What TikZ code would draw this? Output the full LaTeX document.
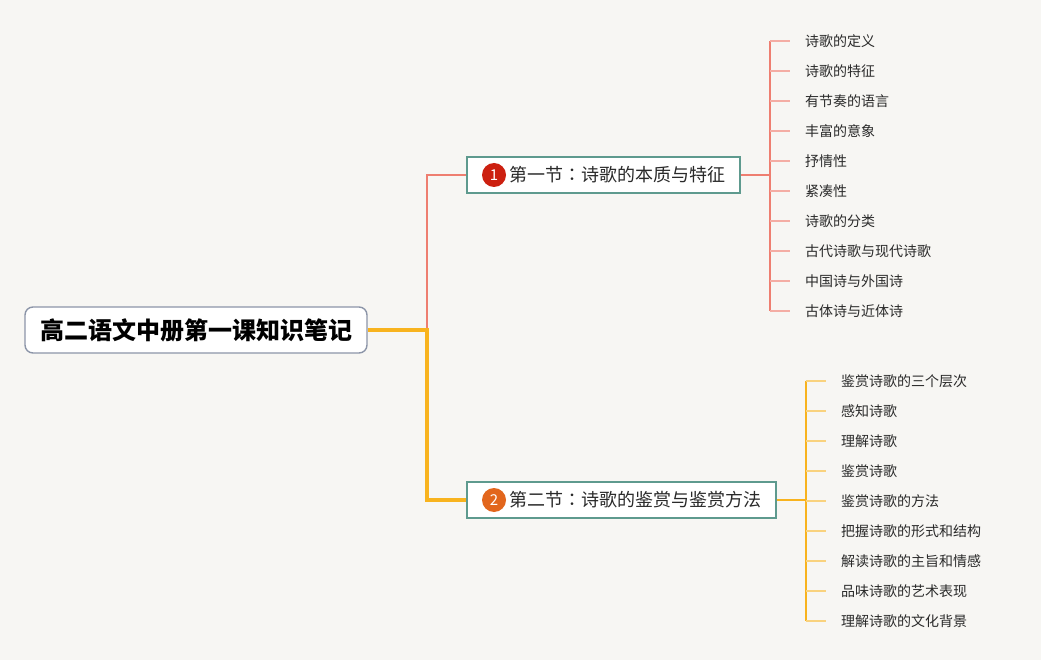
\documentclass[tikz,border=0pt]{standalone}
\usepackage{fontspec}
\setmainfont{Noto Sans CJK SC}
\newfontfamily\tcfont{Noto Sans CJK TC}
\newcommand{\sectcolon}{{\tcfont ：}}
\definecolor{paper}{HTML}{F7F6F3}
\definecolor{rootline}{HTML}{8C95A8}
\definecolor{tealline}{HTML}{5E9A8E}
\definecolor{redline}{HTML}{EE7E70}
\definecolor{redtick}{HTML}{F4ADA4}
\definecolor{yelline}{HTML}{F8B31E}
\definecolor{yeltick}{HTML}{F9D27E}
\definecolor{redball}{HTML}{CC2010}
\definecolor{orangeball}{HTML}{E2661C}
\definecolor{inkgray}{HTML}{2A2A2A}

\begin{document}
\begin{tikzpicture}[x=1pt, y=-1pt,
    rootbox/.style={draw=rootline, line width=1.4pt, fill=white, rounded corners=8pt, minimum width=342pt, minimum height=46pt, font=\fontsize{24pt}{27pt}\selectfont\bfseries, text=black},
    sectbox/.style={draw=tealline, line width=1.5pt, fill=white, minimum height=36pt, font=\fontsize{18pt}{21pt}\selectfont, text=inkgray},
    ball/.style={circle, inner sep=0pt, minimum size=24pt, text=white, font=\fontsize{15pt}{17pt}\selectfont},
    leaf/.style={anchor=west, inner xsep=15pt, inner ysep=2pt, font=\fontsize{14pt}{16pt}\selectfont, text=inkgray}]
    \fill[paper] (0,0) rectangle (1041,660);
    \useasboundingbox (0,0) rectangle (1041,660);

    % Nodes - root and sections
    \node[rootbox] (root) at (196,330) {高二语文中册第一课知识笔记};
    \node[sectbox, minimum width=273pt] (s1) at (603.5,175) {\hspace*{27pt}第一节\sectcolon 诗歌的本质与特征};
    \node[sectbox, minimum width=309pt] (s2) at (621.5,500) {\hspace*{27pt}第二节\sectcolon 诗歌的鉴赏与鉴赏方法};
    \node[ball, fill=redball] (n1) at (494,175) {1};
    \node[ball, fill=orangeball] (n2) at (494,500) {2};
    \coordinate (j) at (427,330);
    \coordinate (t1) at (770,175);
    \coordinate (t2) at (806,500);

    % Nodes - leaves of section 1
    \node[leaf] (a1) at (790,41) {诗歌的定义};
    \node[leaf] (a2) at (790,71) {诗歌的特征};
    \node[leaf] (a3) at (790,101) {有节奏的语言};
    \node[leaf] (a4) at (790,131) {丰富的意象};
    \node[leaf] (a5) at (790,161) {抒情性};
    \node[leaf] (a6) at (790,191) {紧凑性};
    \node[leaf] (a7) at (790,221) {诗歌的分类};
    \node[leaf] (a8) at (790,251) {古代诗歌与现代诗歌};
    \node[leaf] (a9) at (790,281) {中国诗与外国诗};
    \node[leaf] (a10) at (790,311) {古体诗与近体诗};

    % Nodes - leaves of section 2
    \node[leaf] (b1) at (826,381) {鉴赏诗歌的三个层次};
    \node[leaf] (b2) at (826,411) {感知诗歌};
    \node[leaf] (b3) at (826,441) {理解诗歌};
    \node[leaf] (b4) at (826,471) {鉴赏诗歌};
    \node[leaf] (b5) at (826,501) {鉴赏诗歌的方法};
    \node[leaf] (b6) at (826,531) {把握诗歌的形式和结构};
    \node[leaf] (b7) at (826,561) {解读诗歌的主旨和情感};
    \node[leaf] (b8) at (826,591) {品味诗歌的艺术表现};
    \node[leaf] (b9) at (826,621) {理解诗歌的文化背景};

    % Edges (main branches)
    \draw[redline, line width=1.5pt] (j) |- (s1.west);
    \draw[yelline, line width=4pt] (root.east) -- (j) |- (s2.west);
    \draw[redline, line width=1.5pt] (s1.east) -- (t1);
    \draw[yelline, line width=2pt] (s2.east) -- (t2);

    % Edges (leaf ticks, condensed)
    \draw[redline, line width=1.5pt] (a1.west -| t1) -- (a10.west -| t1);
    \draw[redtick, line width=1.5pt] (a1.west -| t1) -- (a1.west); \draw[redtick, line width=1.5pt] (a2.west -| t1) -- (a2.west);
    \draw[redtick, line width=1.5pt] (a3.west -| t1) -- (a3.west); \draw[redtick, line width=1.5pt] (a4.west -| t1) -- (a4.west);
    \draw[redtick, line width=1.5pt] (a5.west -| t1) -- (a5.west); \draw[redtick, line width=1.5pt] (a6.west -| t1) -- (a6.west);
    \draw[redtick, line width=1.5pt] (a7.west -| t1) -- (a7.west); \draw[redtick, line width=1.5pt] (a8.west -| t1) -- (a8.west);
    \draw[redtick, line width=1.5pt] (a9.west -| t1) -- (a9.west); \draw[redtick, line width=1.5pt] (a10.west -| t1) -- (a10.west);
    \draw[yelline, line width=1.5pt] (b1.west -| t2) -- (b9.west -| t2);
    \draw[yeltick, line width=1.5pt] (b1.west -| t2) -- (b1.west); \draw[yeltick, line width=1.5pt] (b2.west -| t2) -- (b2.west);
    \draw[yeltick, line width=1.5pt] (b3.west -| t2) -- (b3.west); \draw[yeltick, line width=1.5pt] (b4.west -| t2) -- (b4.west);
    \draw[yeltick, line width=1.5pt] (b5.west -| t2) -- (b5.west); \draw[yeltick, line width=1.5pt] (b6.west -| t2) -- (b6.west);
    \draw[yeltick, line width=1.5pt] (b7.west -| t2) -- (b7.west); \draw[yeltick, line width=1.5pt] (b8.west -| t2) -- (b8.west);
    \draw[yeltick, line width=1.5pt] (b9.west -| t2) -- (b9.west);
\end{tikzpicture}
\end{document}
